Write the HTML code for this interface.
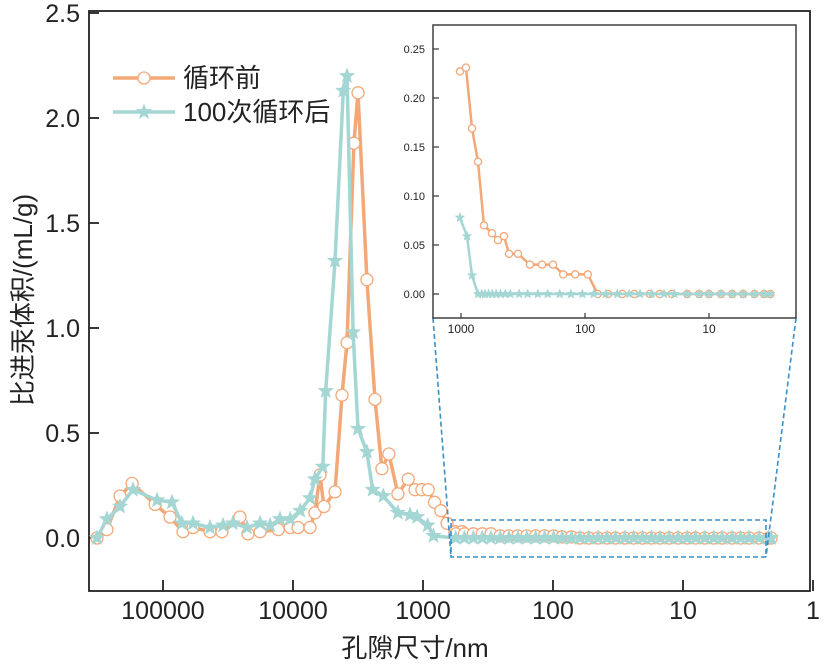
<!DOCTYPE html>
<html><head><meta charset="utf-8"><style>
html,body{margin:0;padding:0;background:#fff;}
svg{display:block;font-family:"Liberation Sans","Noto Sans CJK SC",sans-serif;}
</style></head><body>
<svg id="chart" width="827" height="667" viewBox="0 0 827 667" xmlns="http://www.w3.org/2000/svg">
<g id="main"></g>
</svg>
<script>
// ===== main chart data =====
const orangeX=[322000,270000,214000,173000,115000,88300,70200,58800,43500,35200,25600,22200,17900,13000,10500,9150,7400,6780,6200,5780,4750,4200,3840,3400,3160,2700,2340,2070,1830,1560,1300,1150,1020,912,815,729,653,568,500];
const orangeY=[0,0.04,0.2,0.26,0.16,0.1,0.03,0.05,0.03,0.03,0.1,0.02,0.03,0.04,0.05,0.05,0.05,0.12,0.3,0.15,0.22,0.68,0.93,1.88,2.12,1.23,0.66,0.33,0.4,0.21,0.28,0.23,0.23,0.23,0.17,0.13,0.07,0.03,0.03];
const tealX=[322000,270000,214000,170000,111000,85300,71500,58800,43500,34500,29000,22600,17900,15000,12600,10500,8800,7400,6780,5900,5600,4750,4100,3840,3450,3160,2700,2440,2020,1560,1260,1110,920,830];
const tealY=[0,0.09,0.15,0.23,0.18,0.17,0.07,0.07,0.05,0.06,0.07,0.05,0.07,0.06,0.09,0.09,0.13,0.19,0.28,0.34,0.7,1.32,2.13,2.2,0.98,0.52,0.41,0.23,0.2,0.12,0.11,0.1,0.06,0.01];
const tailX=[560,480,410,350,300,255,218,186,159,136,116,99,85,72,62,53,45,38.5,33,28,24,20.5,17.5,15,12.8,10.9,9.3,8,6.8,5.8,5,4.2,3.6,3.1,2.6,2.2,2.1];
const orangeTailY=[0.02,0.02,0.02,0.02,0.02,0.01,0.01,0.01,0.01,0.01,0.01,0.01,0.005,0.005,0,0,0,0,0,0,0,0,0,0,0,0,0,0,0,0,0,0,0,0,0,0,0];
const tealTailY=[0,0,0,0,0,0,0,0,0,0,0,0,0,0,0,0,0,0,0,0,0,0,0,0,0,0,0,0,0,0,0,0,0,0,0,0,0];
const xTicks=[100000,10000,1000,100,10,1];
const xTickLabels=["100000","10000","1000","100","10","1"];
const yTicks=[0,0.5,1,1.5,2,2.5];
const yTickLabels=["0.0","0.5","1.0","1.5","2.0","2.5"];
// ===== inset data =====
const inOrangeX=[1020,912,815,729,653,563,504,450,410,347,278,222,181,150,120,95,79,65,50,40,30,25,20,15,12,10,8,6.5,5.3,4.3,3.6,3.2];
const inOrangeY=[0.227,0.231,0.169,0.135,0.07,0.062,0.055,0.059,0.041,0.041,0.03,0.03,0.03,0.02,0.02,0.02,0,0,0,0,0,0,0,0,0,0,0,0,0,0,0,0];
const inTealX=[1020,895,815,729,680,640,600,560,520,480,440,400,340,290,240,200,160,130,105,85,68,55,44,36,29,23,19,15,12,10,8,6.5,5.3,4.3,3.6,3.2];
const inTealY=[0.078,0.059,0.019,0,0,0,0,0,0,0,0,0,0,0,0,0,0,0,0,0,0,0,0,0,0,0,0,0,0,0,0,0,0,0,0,0];
const inXTicks=[1000,100,10];
const inXTickLabels=["1000","100","10"];
const inYTicks=[0,0.05,0.1,0.15,0.2,0.25];
const inYTickLabels=["0.00","0.05","0.10","0.15","0.20","0.25"];

const NS="http://www.w3.org/2000/svg";
const root=document.getElementById('main');
function mk(tag,attrs,parent){const e=document.createElementNS(NS,tag);for(const k in attrs)e.setAttribute(k,attrs[k]);(parent||root).appendChild(e);return e;}
const ORANGE="#f3a878",TEAL="#a4d6d3";
const X=v=>163+(5-Math.log10(v))*130;
const Y=v=>538-v*210;
const IX=v=>461+(3-Math.log10(v))*124;
const IY=v=>294-v*980;

function star(cx,cy,r,fill,parent){
  let p=[];for(let i=0;i<10;i++){const a=-Math.PI/2+i*Math.PI/5;const rr=i%2?r*0.42:r;p.push((cx+rr*Math.cos(a)).toFixed(1)+','+(cy+rr*Math.sin(a)).toFixed(1));}
  return mk('polygon',{points:p.join(' '),fill:fill,stroke:fill,'stroke-width':0.5},parent);
}
function series(xs,ys,fx,fy,color,kind,r,lw,name,parent){
  const g=mk('g',{},parent);
  
  
  mk('polyline',{points:xs.map((x,i)=>fx(x).toFixed(1)+','+fy(ys[i]).toFixed(1)).join(' '),fill:'none',stroke:color,'stroke-width':lw,'stroke-linejoin':'round'},g);
  xs.forEach((x,i)=>{
    let m;
    if(kind==='c'){m=mk('circle',{cx:fx(x),cy:fy(ys[i]),r:r,fill:'#fff',stroke:color,'stroke-width':1.3},g);}
    else{m=star(fx(x),fy(ys[i]),r,color,g);}
    
    
  });
  return g;
}

const fr=mk('rect',{x:89,y:11,width:721,height:580,fill:'none',stroke:'#222','stroke-width':1.8});


yTicks.forEach((v,i)=>{
  const t=mk('line',{x1:89,x2:99,y1:Y(v),y2:Y(v),stroke:'#222','stroke-width':1.8});
  
  
  const l=mk('text',{x:80,y:Y(v)+9,'text-anchor':'end','font-size':25,fill:'#222'});
  l.textContent=yTickLabels[i];
  
  
});
xTicks.forEach((v,i)=>{
  const t=mk('line',{x1:X(v),x2:X(v),y1:591,y2:580,stroke:'#222','stroke-width':1.8});
  
  
  const l=mk('text',{x:X(v),y:619,'text-anchor':'middle','font-size':25,fill:'#222'});
  l.textContent=xTickLabels[i];
  
  
});
const xt=mk('text',{x:415,y:657,'text-anchor':'middle','font-size':26,fill:'#222'});
xt.textContent='孔隙尺寸/nm';


const yt=mk('text',{x:32,y:300,'text-anchor':'middle','font-size':26,fill:'#222',transform:'rotate(-90 32 300)'});
yt.textContent='比进汞体积/(mL/g)';



series(orangeX.concat(tailX),orangeY.concat(orangeTailY),X,Y,ORANGE,'c',6,3.5,'series-before-cycle');
series(tealX.concat(tailX),tealY.concat(tealTailY),X,Y,TEAL,'s',8,3.5,'series-after-100-cycles');

const zb=mk('rect',{x:451,y:520,width:315,height:37,fill:'none',stroke:'#3b8fc6','stroke-width':1.6,'stroke-dasharray':'5,3'});


const c1=mk('line',{x1:433,y1:318,x2:451,y2:557,stroke:'#3b8fc6','stroke-width':1.6,'stroke-dasharray':'5,3'});


const c2=mk('line',{x1:796,y1:318,x2:766,y2:557,stroke:'#3b8fc6','stroke-width':1.6,'stroke-dasharray':'5,3'});



const lg=mk('g',{});


mk('line',{x1:113,x2:175,y1:78,y2:78,stroke:ORANGE,'stroke-width':3.5},lg);
mk('circle',{cx:144,cy:78,r:6,fill:'#fff',stroke:ORANGE,'stroke-width':1.3},lg);
const l1=mk('text',{x:183,y:87,'font-size':26,fill:'#222'},lg);l1.textContent='循环前';


mk('line',{x1:113,x2:175,y1:112,y2:112,stroke:TEAL,'stroke-width':3.5},lg);
star(144,112,8,TEAL,lg);
const l2=mk('text',{x:183,y:121,'font-size':26,fill:'#222'},lg);l2.textContent='100次循环后';



const ins=mk('g',{});


mk('rect',{x:433,y:25,width:363,height:293,fill:'#fff',stroke:'#333','stroke-width':1.4},ins);
inYTicks.forEach((v,i)=>{
  const t=mk('line',{x1:433,x2:439,y1:IY(v),y2:IY(v),stroke:'#333','stroke-width':1.2},ins);
  
  
  const l=mk('text',{x:425,y:IY(v)+4,'text-anchor':'end','font-size':11,fill:'#222'},ins);
  l.textContent=inYTickLabels[i];
  
  
});
inXTicks.forEach((v,i)=>{
  const t=mk('line',{x1:IX(v),x2:IX(v),y1:318,y2:313,stroke:'#333','stroke-width':1.2},ins);
  
  
  const l=mk('text',{x:IX(v),y:333,'text-anchor':'middle','font-size':12,fill:'#222'},ins);
  l.textContent=inXTickLabels[i];
  
  
});
series(inOrangeX,inOrangeY,IX,IY,ORANGE,'c',3.6,2.5,'inset-series-before-cycle',ins);
series(inTealX,inTealY,IX,IY,TEAL,'s',5,2.5,'inset-series-after-100-cycles',ins);
</script>
</body></html>
